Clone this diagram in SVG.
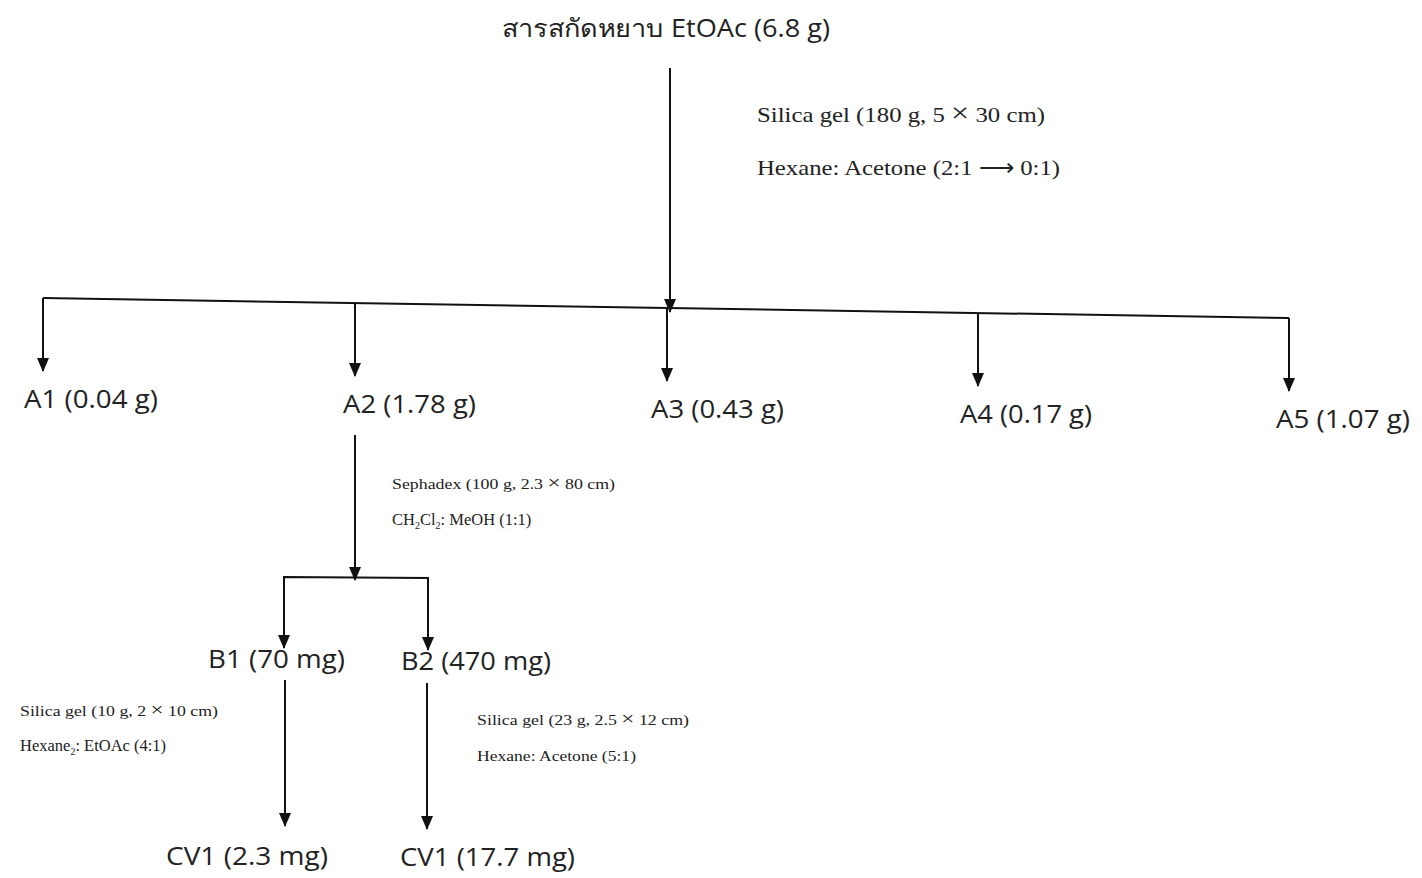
<svg xmlns="http://www.w3.org/2000/svg" width="1422" height="878" viewBox="0 0 1422 878">
<defs>
<marker id="ah" viewBox="0 0 14 12" refX="13" refY="6" markerWidth="14" markerHeight="12" markerUnits="userSpaceOnUse" orient="auto">
<path d="M0,0 L14,6 L0,12 Z" fill="#111"/>
</marker>
</defs>
<style>
.ln{stroke:#111;stroke-width:2;fill:none}
.ar{stroke:#111;stroke-width:2;fill:none;marker-end:url(#ah)}
.nd{font-family:"Open Sans","Noto Sans",sans-serif;font-size:25px;fill:#222}
.cd{font-family:"Liberation Serif",serif;font-size:21px;fill:#222}
.cs{font-family:"Liberation Serif",serif;font-size:15px;fill:#222}
.cs2{font-family:"Liberation Serif",serif;font-size:16.5px;fill:#222}
.x{font-size:1.3em}
</style>
<rect width="1422" height="878" fill="#fff"/>
<g id="connectors">
<line class="ln" x1="43" y1="298" x2="1289" y2="318"/>
<line class="ar" x1="670" y1="68" x2="670" y2="312"/>
<line class="ar" x1="43" y1="298" x2="43" y2="371"/>
<line class="ar" x1="355" y1="303" x2="355" y2="376"/>
<line class="ar" x1="667" y1="308" x2="667" y2="381"/>
<line class="ar" x1="978" y1="313" x2="978" y2="386"/>
<line class="ar" x1="1289" y1="318" x2="1289" y2="391"/>
<line class="ar" x1="355" y1="435" x2="355" y2="580"/>
<polyline class="ln" points="284,640 284,577 428,578 428,640"/>
<line class="ar" x1="284" y1="578" x2="284" y2="648"/>
<line class="ar" x1="428" y1="578" x2="428" y2="650"/>
<line class="ar" x1="285" y1="680" x2="285" y2="826"/>
<line class="ar" x1="427" y1="683" x2="427" y2="829"/>
</g>
<g id="root"><text class="nd" x="502" y="37" textLength="328" lengthAdjust="spacingAndGlyphs">สารสกัดหยาบ EtOAc (6.8 g)</text></g>
<g id="cond1">
<text class="cd" x="757" y="122" textLength="288" lengthAdjust="spacingAndGlyphs">Silica gel (180 g, 5 <tspan class="x">×</tspan> 30 cm)</text>
<text class="cd" x="757" y="175" textLength="303" lengthAdjust="spacingAndGlyphs">Hexane: Acetone (2:1 ⟶ 0:1)</text>
</g>
<g id="A1"><text class="nd" x="24" y="408" textLength="134" lengthAdjust="spacingAndGlyphs">A1 (0.04 g)</text></g>
<g id="A2"><text class="nd" x="343" y="413" textLength="133" lengthAdjust="spacingAndGlyphs">A2 (1.78 g)</text></g>
<g id="A3"><text class="nd" x="651" y="418" textLength="133" lengthAdjust="spacingAndGlyphs">A3 (0.43 g)</text></g>
<g id="A4"><text class="nd" x="960" y="423" textLength="132" lengthAdjust="spacingAndGlyphs">A4 (0.17 g)</text></g>
<g id="A5"><text class="nd" x="1276" y="428" textLength="134" lengthAdjust="spacingAndGlyphs">A5 (1.07 g)</text></g>
<g id="cond2">
<text class="cs" x="392" y="489" textLength="223" lengthAdjust="spacingAndGlyphs">Sephadex (100 g, 2.3 <tspan class="x">×</tspan> 80 cm)</text>
<text class="cs2" x="392" y="525">CH<tspan font-size="10" dy="4">2</tspan><tspan dy="-4">Cl</tspan><tspan font-size="10" dy="4">2</tspan><tspan dy="-4">: MeOH (1:1)</tspan></text>
</g>
<g id="B1"><text class="nd" x="208" y="668" textLength="137" lengthAdjust="spacingAndGlyphs">B1 (70 mg)</text></g>
<g id="B2"><text class="nd" x="401" y="670" textLength="150" lengthAdjust="spacingAndGlyphs">B2 (470 mg)</text></g>
<g id="cond3">
<text class="cs" x="20" y="716" textLength="198" lengthAdjust="spacingAndGlyphs">Silica gel (10 g, 2 <tspan class="x">×</tspan> 10 cm)</text>
<text class="cs2" x="20" y="751">Hexane<tspan font-size="10" dy="4">2</tspan><tspan dy="-4">: EtOAc (4:1)</tspan></text>
</g>
<g id="cond4">
<text class="cs" x="477" y="725" textLength="212" lengthAdjust="spacingAndGlyphs">Silica gel (23 g, 2.5 <tspan class="x">×</tspan> 12 cm)</text>
<text class="cs" x="477" y="761" textLength="159" lengthAdjust="spacingAndGlyphs">Hexane: Acetone (5:1)</text>
</g>
<g id="CV1a"><text class="nd" x="166" y="865" textLength="162" lengthAdjust="spacingAndGlyphs">CV1 (2.3 mg)</text></g>
<g id="CV1b"><text class="nd" x="400" y="866" textLength="175" lengthAdjust="spacingAndGlyphs">CV1 (17.7 mg)</text></g>
</svg>
